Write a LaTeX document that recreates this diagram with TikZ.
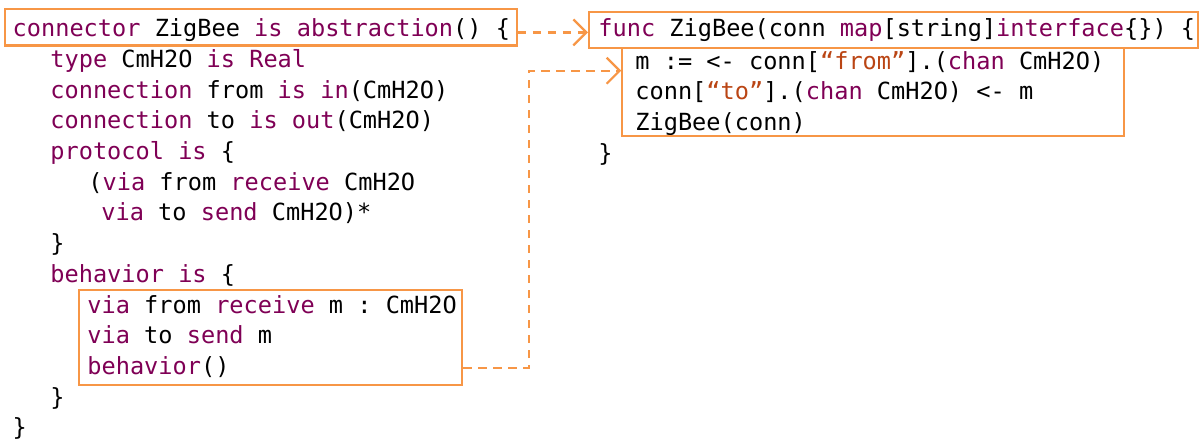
\documentclass[tikz,border=0pt]{standalone}
\usepackage{fontspec}
\setmonofont{DejaVu Sans Mono}
\usetikzlibrary{fit,arrows.meta,calc}

\definecolor{boxorange}{HTML}{F79646}
\definecolor{kwpurple}{HTML}{7F0055}
\definecolor{strbrown}{RGB}{186,69,20}
\newcommand\kw[1]{\textcolor{kwpurple}{#1}}
\newcommand\strg[1]{\textcolor{strbrown}{#1}}
\newcommand\codefont{\ttfamily\fontsize{11.8pt}{14pt}\selectfont}

\begin{document}
\begin{tikzpicture}[x=0.5pt,y=-0.5pt,
   code/.style={anchor=base west,inner sep=0pt,font=\codefont},
   hlbox/.style={draw=boxorange,line width=1.1pt,inner sep=0pt},
   link/.style={draw=boxorange,line width=1.1pt,dash pattern=on 4.2pt off 3.3pt,
                -{Straight Barb[length=6.5pt,width=13pt]}}]
   \useasboundingbox (0,0) rectangle (1199,445);

   % connector side
   \node[code] (c1)  at (12.3,36.7)  {\kw{connector} ZigBee \kw{is} \kw{abstraction}() \{};
   \node[code] (c2)  at (50,67.4)    {\kw{type} CmH2O \kw{is} \kw{Real}};
   \node[code] (c3)  at (50,98.1)    {\kw{connection} from \kw{is} \kw{in}(CmH2O)};
   \node[code] (c4)  at (50,128.8)   {\kw{connection} to \kw{is} \kw{out}(CmH2O)};
   \node[code] (c5)  at (50,159.5)   {\kw{protocol} \kw{is} \{};
   \node[code] (c6)  at (88,190.2)   {(\kw{via} from \kw{receive} CmH2O};
   \node[code] (c7)  at (101,220.9)  {\kw{via} to \kw{send} CmH2O)*};
   \node[code] (c8)  at (50,251.6)   {\}};
   \node[code] (c9)  at (50,282.3)   {\kw{behavior} \kw{is} \{};
   \node[code] (c10) at (87,313)     {\kw{via} from \kw{receive} m : CmH2O};
   \node[code] (c11) at (87,343.7)   {\kw{via} to \kw{send} m};
   \node[code] (c12) at (87,374.4)   {\kw{behavior}()};
   \node[code] (c13) at (50,405.1)   {\}};
   \node[code] (c14) at (12.3,435.8) {\}};

   % go side
   \node[code] (g1) at (598,36.7) {\kw{func} ZigBee(conn \kw{map}[string]\kw{interface}\{\}) \{};
   \node[code] (g2) at (635,69)   {m := <- conn[\strg{“from”}].(\kw{chan} CmH2O)};
   \node[code] (g3) at (635,99.5) {conn[\strg{“to”}].(\kw{chan} CmH2O) <- m};
   \node[code] (g4) at (635,130)  {ZigBee(conn)};
   \node[code] (g5) at (598,161)  {\}};

   \node[hlbox,fit={(5,9.3) (516.7,45.5)}] (absbox) {};
   \node[hlbox,fit={(79,290) (462.3,385)}] (behbox) {};
   \node[hlbox,fit={(589,11.7) (1197.7,48.3)}] (funcbox) {};
   \node[hlbox,fit={(622.3,48.3) (1124.3,135.7)}] (bodybox) {};

   \coordinate (a1) at ($(absbox.east)+(0,5)$);
   \draw[link] (a1) -- (a1 -| funcbox.west);
   \coordinate (a2) at (behbox.east |- 0,367.7);
   \coordinate (a3) at (bodybox.west |- 0,70.7);
   \draw[link] (a2) -- ++(65.4,0) |- (a3);

\end{tikzpicture}
\end{document}
